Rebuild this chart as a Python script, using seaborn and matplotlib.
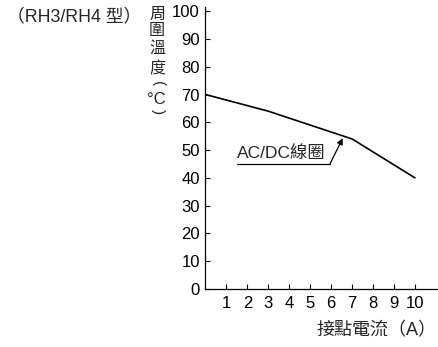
import matplotlib
matplotlib.use("Agg")
import matplotlib.pyplot as plt
import seaborn as sns
import pandas as pd

# 接點電流 (A) vs 周圍溫度 (°C)
current = [0, 3, 7, 10]
temp = [70, 64, 54, 40]
xticks = [1, 2, 3, 4, 5, 6, 7, 8, 9, 10]
yticks = [0, 10, 20, 30, 40, 50, 60, 70, 80, 90, 100]

sns.set_style("ticks")
plt.rcParams['font.family'] = ['Liberation Sans', 'Noto Sans CJK TC', 'DejaVu Sans']

W, H = 439, 347
fig = plt.figure(figsize=(W / 100, H / 100), dpi=100)
ax = fig.add_axes([205.5 / W, 1 - 289 / H, (438 - 205.5) / W, (289 - 7) / H])

df = pd.DataFrame({'current': current, 'temp': temp})
sns.lineplot(data=df, x='current', y='temp', color='black', linewidth=1.2, ax=ax)

ax.set_xlim(0, 11.1)
ax.set_ylim(0, 101.5)
ax.set_xticks(xticks)
ax.set_yticks(yticks)
ax.tick_params(direction='in', length=3.5, width=0.8, labelsize=12, colors='black')
ax.tick_params(axis='x', pad=5)
ax.tick_params(axis='y', pad=4)
for s in ['top', 'right']:
    ax.spines[s].set_visible(False)
for s in ['left', 'bottom']:
    ax.spines[s].set_linewidth(0.9)
    ax.spines[s].set_color('black')
ax.set_xlabel('')
ax.set_ylabel('')

# AC/DC coil label with underline and arrow
ax.text(1.5, 45.9, 'AC/DC線圈', fontsize=12.5, ha='left', va='bottom')
ax.plot([1.5, 5.95], [45.1, 45.1], color='black', linewidth=0.9)
ax.annotate('', xy=(6.55, 54.3), xytext=(5.95, 45.1),
            arrowprops=dict(arrowstyle='-|>', color='black', lw=0.9,
                            mutation_scale=9, shrinkA=0, shrinkB=0))

# titles / labels
fig.text(7 / W, 1 - 17 / H, '（RH3/RH4 型）', fontsize=12.8, ha='left', va='center')
ylab_chars = ['周', '圍', '溫', '度']
ylab_pos = [14.5, 31, 48.5, 69]
for ch, yp in zip(ylab_chars, ylab_pos):
    fig.text(157 / W, 1 - yp / H, ch, fontsize=11.5, ha='center', va='center')
fig.text(158 / W, 1 - 84 / H, '(', fontsize=11, ha='center', va='center', rotation=-90)
fig.text(156 / W, 1 - 99.5 / H, '°C', fontsize=12, ha='center', va='center')
fig.text(158 / W, 1 - 112 / H, ')', fontsize=11, ha='center', va='center', rotation=-90)
fig.text(436 / W, 1 - 331 / H, '接點電流（A）', fontsize=13, ha='right', va='center')

fig.savefig('out.png', dpi=100)
